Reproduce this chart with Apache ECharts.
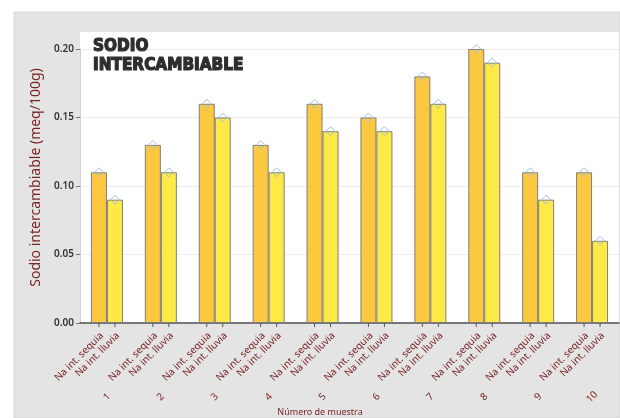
<!DOCTYPE html>
<html><head><meta charset="utf-8">
<script src="https://cdn.jsdelivr.net/npm/echarts@6/dist/echarts.min.js"></script>
<style>html,body{margin:0;padding:0;background:#fff}#c{width:620px;height:418px}</style>
</head><body><div id="c"></div>
<script>
const groups = ['1','2','3','4','5','6','7','8','9','10'];
const seriesNames = ['Na int. sequia','Na int. lluvia'];
const sequia = [0.11,0.13,0.16,0.13,0.16,0.15,0.18,0.20,0.11,0.11];
const lluvia = [0.09,0.11,0.15,0.11,0.14,0.14,0.16,0.19,0.09,0.06];
const yTickStep = 0.05;
const titleText = 'SODIO\nINTERCAMBIABLE';
const yName = 'Sodio intercambiable (meq/100g)';
const xName = 'Número de muestra';

const chart = echarts.init(document.getElementById('c'), null, {renderer:'canvas'});
const labelColor = '#7a2424';
const option = {
  animation: false,
  backgroundColor: '#ffffff',
  graphic: { elements: [
    {type:'rect', z:-100, shape:{x:14,y:12,width:606,height:406}, style:{fill:'#e4e4e4', stroke:'#d6d6d6', lineWidth:1}},
    {type:'rect', z:-99, shape:{x:80,y:32,width:539,height:291}, style:{fill:'#ffffff'}},
    {type:'text', z:10, x:93, y:37, style:{text:titleText, fill:'#2e2e2e', stroke:'#2e2e2e', lineWidth:1.2, font:'900 17px "DejaVu Sans Condensed", "DejaVu Sans"', lineHeight:19}},
    {type:'text', z:10, x:320, y:412, style:{text:xName, align:'center', verticalAlign:'middle', fill:labelColor, font:'9px "Noto Sans"'}}
  ]},
  grid: {left:80, right:1, top:49, bottom:95, outerBoundsMode:'none', containLabel:false},
  xAxis: {
    type:'category', data: groups,
    axisLine:{show:true, lineStyle:{color:'#4d4d4d', width:1.5}},
    axisTick:{show:false},
    axisLabel:{rotate:45, align:'center', verticalAlign:'middle', margin:74, color:labelColor, fontSize:10, fontFamily:'Noto Sans'}
  },
  yAxis: {
    type:'value', min:0, max:0.2, interval:yTickStep,
    axisLine:{show:true, lineStyle:{color:'#d0d0d0'}},
    axisTick:{show:true, length:4, lineStyle:{color:'#777'}},
    axisLabel:{formatter:v=>v.toFixed(2), color:'#333', fontSize:10, fontWeight:600, fontFamily:'Noto Sans', margin:6},
    splitLine:{show:true, lineStyle:{color:'#ececec'}},
    name: yName, nameLocation:'middle', nameGap:37,
    nameTextStyle:{color:labelColor, fontSize:14, fontFamily:'Noto Sans', padding:[0,0,0,17]}
  },
  series: [
    {type:'bar', name:seriesNames[0], data:sequia, barWidth:16, barGap:'0%',
     itemStyle:{color:'#fcc83f', borderColor:'#7f7f7f', borderWidth:1}},
    {type:'bar', name:seriesNames[1], data:lluvia, barWidth:16, barGap:'0%',
     itemStyle:{color:'#fee946', borderColor:'#7f7f7f', borderWidth:1}},
    {type:'custom', clip:false, z:5,
     data: groups.map((g,i)=>[i, sequia[i], lluvia[i]]),
     encode:{x:0, y:[1,2]},
     renderItem(params, api){
       const i = api.value(0);
       const b = api.coord([i, 0]);
       const s = api.coord([i, api.value(1)]);
       const l = api.coord([i, api.value(2)]);
       const off = 8;
       const children = [];
       [[b[0]-off, s[1], seriesNames[0]], [b[0]+off, l[1], seriesNames[1]]].forEach(([x,y,name])=>{
         children.push({type:'line', shape:{x1:x,y1:b[1],x2:x,y2:b[1]+4}, style:{stroke:'#555', lineWidth:1}});
         children.push({type:'polygon', shape:{points:[[x,y-4.5],[x+4.5,y],[x,y+4.5],[x-4.5,y]]}, style:{fill:'none', stroke:'#9ec0e8', lineWidth:1}});
         children.push({type:'text', x:x+3, y:b[1]+11, rotation:Math.PI/4,
           style:{text:name, align:'right', verticalAlign:'middle', fill:labelColor, font:'10px "Noto Sans"'}});
       });
       return {type:'group', children};
     }}
  ]
};
chart.setOption(option);
</script></body></html>
